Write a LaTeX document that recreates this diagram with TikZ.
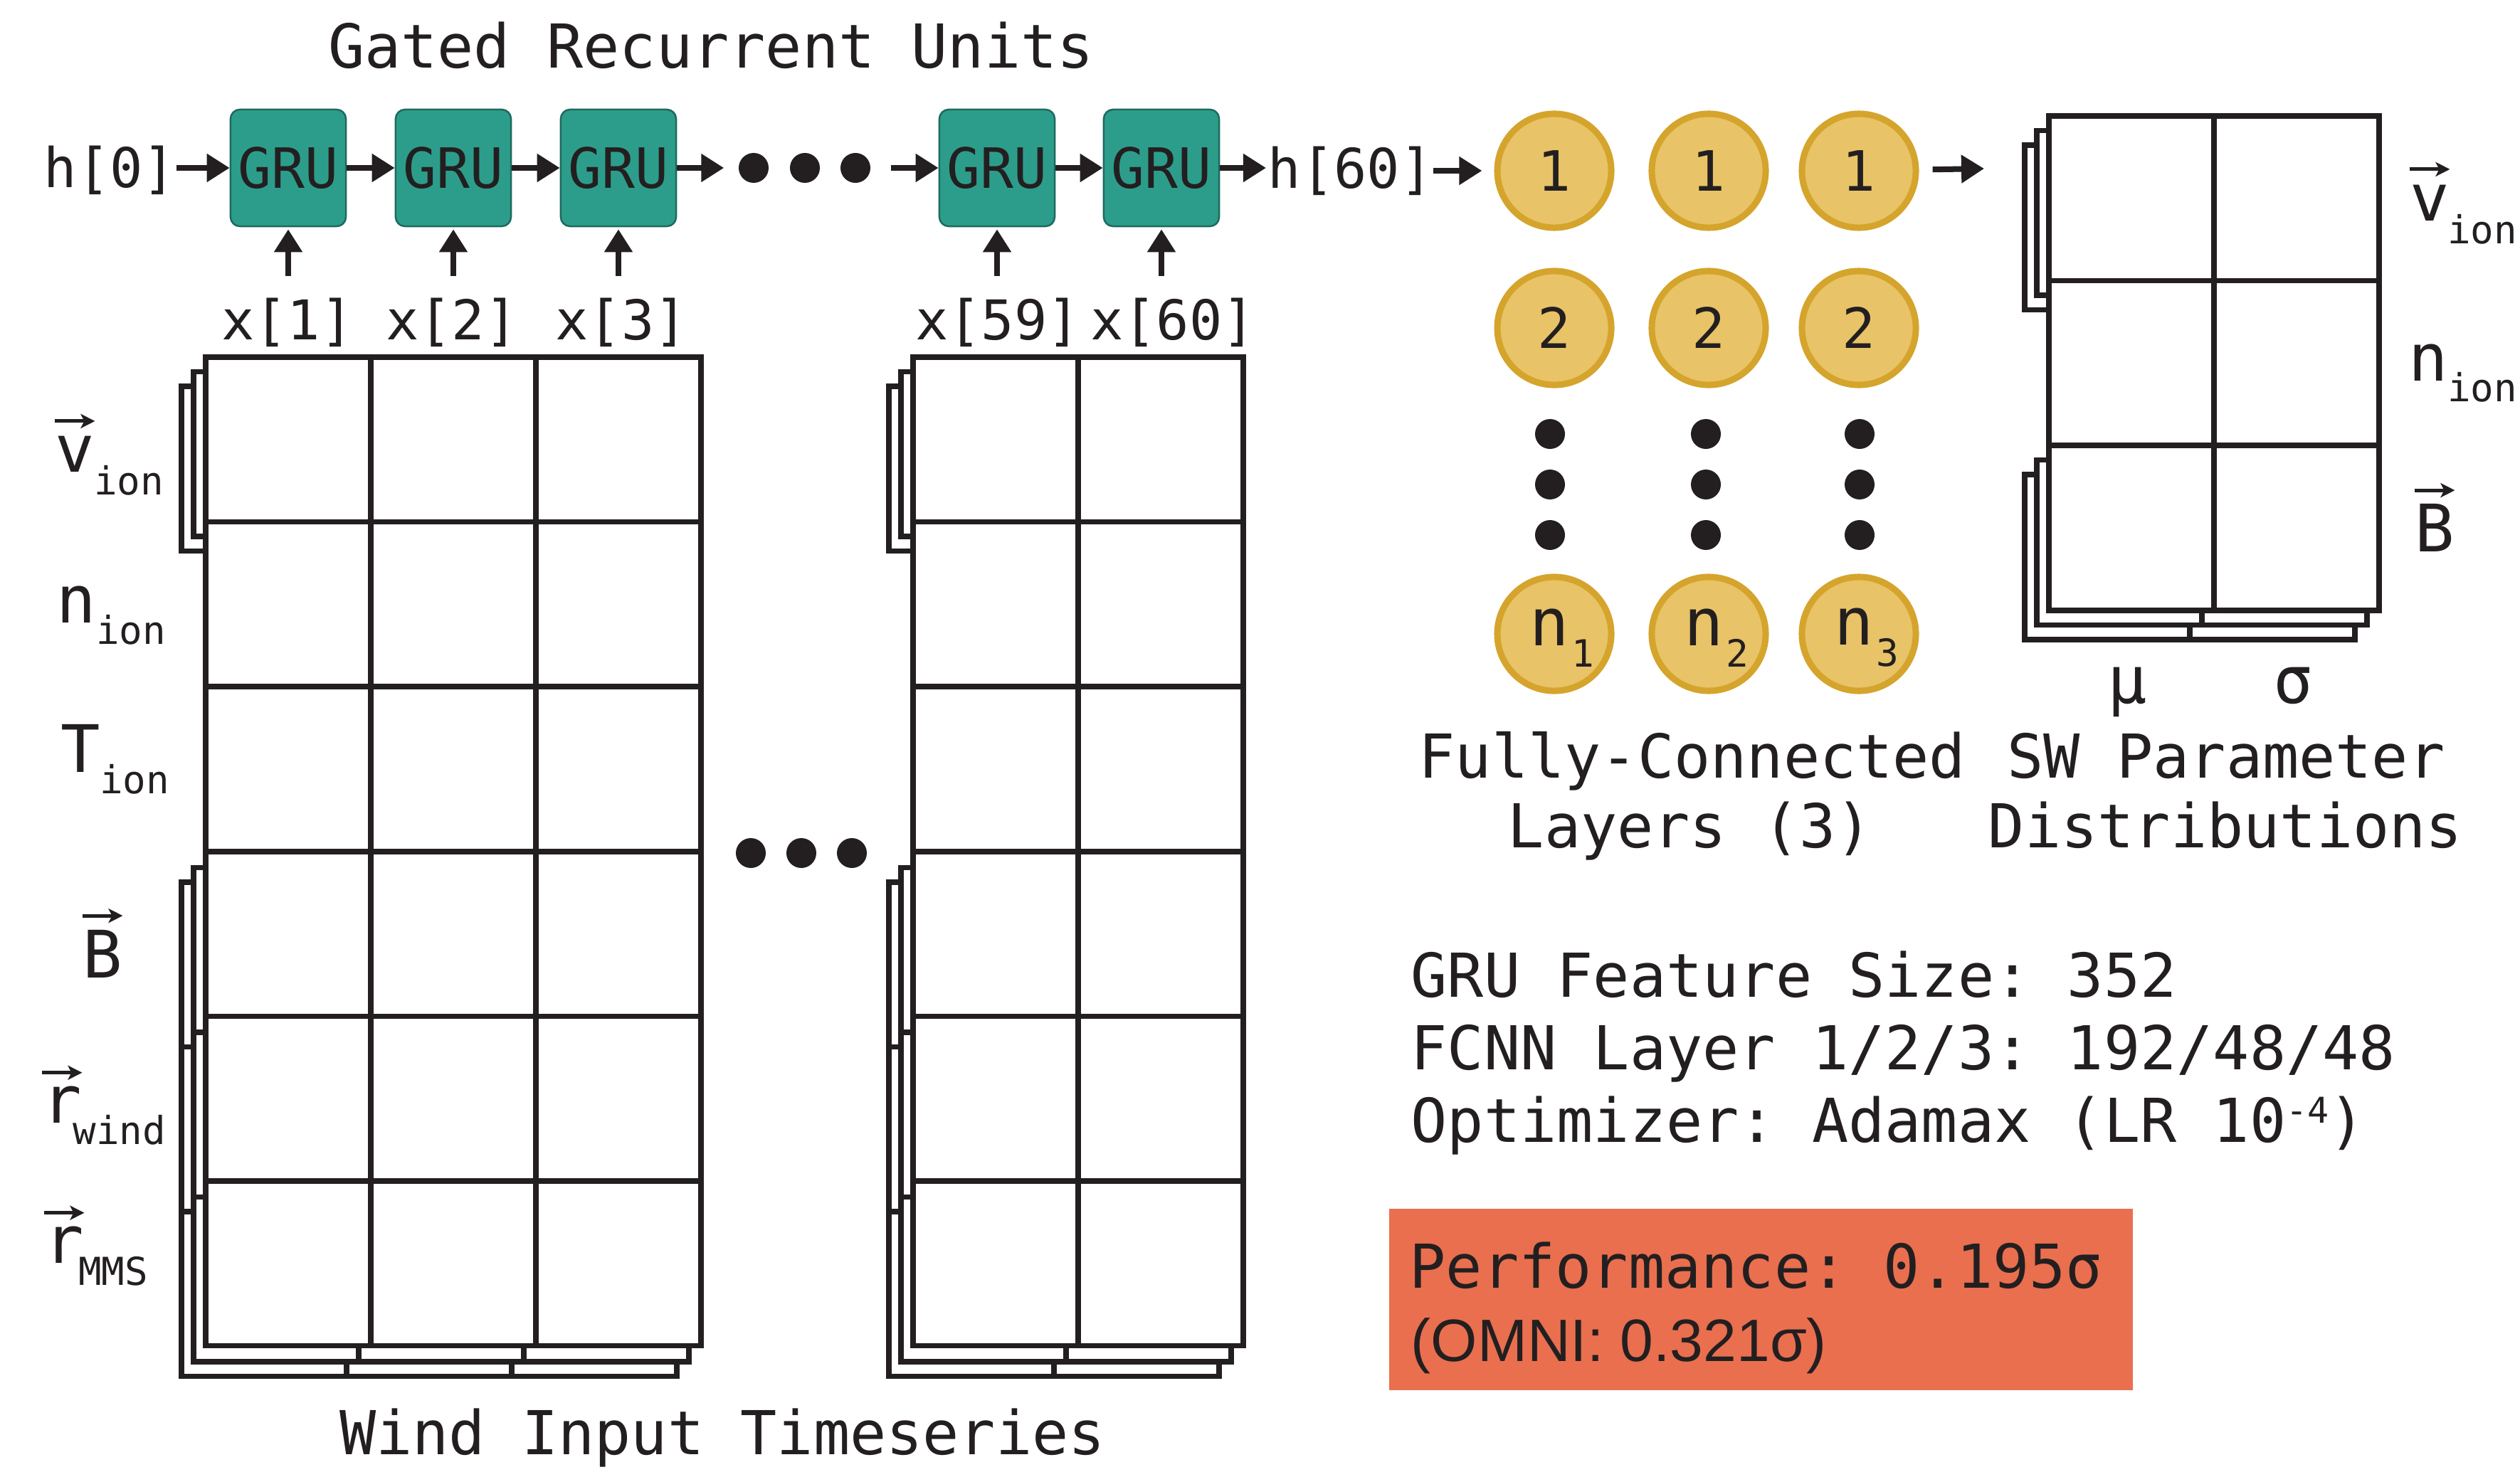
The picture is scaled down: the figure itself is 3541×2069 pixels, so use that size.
\documentclass[tikz,border=0pt]{standalone}
\usepackage{fontspec}
\setmainfont{DejaVu Sans Mono}
\newfontfamily\omnifont{Liberation Sans}
\usetikzlibrary{arrows.meta}

\definecolor{ink}{HTML}{231F20}
\definecolor{grufill}{HTML}{2D9D8B}
\definecolor{gruedge}{HTML}{1D6A5E}
\definecolor{fcfill}{HTML}{E8C367}
\definecolor{fcedge}{HTML}{D5A42C}
\definecolor{perf}{HTML}{E96F4F}

\newcommand{\fsz}[1]{\fontsize{#1pt}{#1pt}\selectfont}

% white table of cells: left x, columns, top y, rows
\newcommand{\cellgrid}[4]{%
  \pgfmathsetmacro\cgRight{#1+232*#2}%
  \pgfmathsetmacro\cgBottom{#3+231.6*#4}%
  \filldraw[gridline, fill=white] (#1,#3) rectangle (\cgRight,\cgBottom);%
  \ifnum#2>1 \foreach \ci in {2,...,#2}{\draw[gridline] ({#1+232*(\ci-1)},#3) -- ({#1+232*(\ci-1)},\cgBottom);}\fi
  \ifnum#4>1 \foreach \cj in {2,...,#4}{\draw[gridline] (#1,{#3+231.6*(\cj-1)}) -- (\cgRight,{#3+231.6*(\cj-1)});}\fi
}

\tikzset{
  txt/.style={inner sep=0pt, text=ink},
  big/.style={txt, font=\fsz{24.2}},
  lab/.style={txt, font=\fsz{21.9}},
  sym/.style={txt, font=\fsz{26.2}},
  sub/.style={txt, font=\fsz{15.4}},
  gru/.style={draw=gruedge, line width=0.025cm, fill=grufill, rounded corners=0.13cm,
    minimum width=1.62cm, minimum height=1.64cm, inner sep=0pt, font=\fsz{22.2}, text=ink},
  neuron/.style={circle, draw=fcedge, line width=0.09cm, fill=fcfill, minimum size=1.6cm,
    inner sep=0pt, font=\fsz{22.2}, text=ink},
  dot/.style={circle, fill=ink, minimum size=0.42cm, inner sep=0pt},
  arr/.style={draw=ink, line width=0.08cm, -{Triangle[length=0.32cm,width=0.38cm]}},
  vecarr/.style={draw=ink, line width=0.05cm, -{Stealth[length=0.2cm,width=0.2cm,inset=0.05cm]}},
  gridline/.style={draw=ink, line width=0.075cm},
}

\begin{document}
\frenchspacing
\begin{tikzpicture}[x=0.01cm, y=-0.01cm]
\useasboundingbox (0,0) rectangle (3541,2069);
\fill[white] (0,0) rectangle (3541,2069);

% ---------- recurrent chain ----------
\node[big, anchor=base] (title) at (999,95) {Gated Recurrent Units};

\node[lab, anchor=base west] (h0) at (61,263) {h[0]};
\node[gru] (gru1) at (405,236) {GRU};
\node[gru] (gru2) at (637,236) {GRU};
\node[gru] (gru3) at (869,236) {GRU};
\node[dot] (gd1) at (1059,236) {};
\node[dot] (gd2) at (1131,236) {};
\node[dot] (gd3) at (1202,236) {};
\node[gru] (gru4) at (1401,236) {GRU};
\node[gru] (gru5) at (1632,236) {GRU};
\node[lab, anchor=base west] (h60) at (1781,264) {h[60]};

\draw[arr] (h0.east |- gru1) -- (gru1.west);
\draw[arr] (gru1.east) -- (gru2.west);
\draw[arr] (gru2.east) -- (gru3.west);
\draw[arr, shorten >=0.2cm] (gru3.east) -- (gd1.west);
\draw[arr, shorten <=0.28cm] (gd3.east) -- (gru4.west);
\draw[arr] (gru4.east) -- (gru5.west);
\draw[arr, shorten >=0.02cm] (gru5.east) -- (h60.west |- gru5);

\node[lab, anchor=base] (x1) at (404,477) {x[1]};
\node[lab, anchor=base] (x2) at (635,477) {x[2]};
\node[lab, anchor=base] (x3) at (873,477) {x[3]};
\node[lab, anchor=base] (x59) at (1402,477) {x[59]};
\node[lab, anchor=base] (x60) at (1648,477) {x[60]};
\foreach \g/\xl in {gru1/x1, gru2/x2, gru3/x3, gru4/x59, gru5/x60}{
  \draw[arr, shorten <=0.3cm, shorten >=0.03cm] (\g.south |- \xl.north) -- (\g.south);
}

% ---------- input windows ----------
\foreach \k in {2,1}{
  \begin{scope}[shift={(-17*\k,20.5*\k)}]
    \cellgrid{289}{3}{502}{1}
    \cellgrid{289}{3}{1198.8}{3}
    \cellgrid{1283}{2}{502}{1}
    \cellgrid{1283}{2}{1198.8}{3}
  \end{scope}
}
\cellgrid{289}{3}{502}{6}
\cellgrid{1283}{2}{502}{6}

\node[dot] (md1) at (1055,1199) {};
\node[dot] (md2) at (1126,1199) {};
\node[dot] (md3) at (1197,1199) {};

% row labels of the input windows
\node[sym, anchor=base] (lv) at (105,663) {v};
\node[sub, anchor=base] (lvs) at (181,695) {ion};
\draw[vecarr] ([yshift=0.2cm]lv.north west) -- ([yshift=0.2cm]lv.north east);
\node[sym, anchor=base] (ln) at (107,875) {n};
\node[sub, anchor=base] (lns) at (184,905) {ion};
\node[sym, anchor=base] (lt) at (113,1085) {T};
\node[sub, anchor=base] (lts) at (189,1115) {ion};
\node[sym, anchor=base] (lb) at (144,1374) {B};
\draw[vecarr] ([yshift=0.19cm]lb.north west) -- ([yshift=0.19cm]lb.north east);
\node[sym, anchor=base] (lrw) at (87,1578) {r};
\node[sub, anchor=base] (lrws) at (168,1608) {wind};
\draw[vecarr] ([yshift=0.18cm]lrw.north west) -- ([yshift=0.18cm]lrw.north east);
\node[sym, anchor=base] (lrm) at (90,1775) {r};
\node[sub, anchor=base] (lrms) at (159,1806) {MMS};
\draw[vecarr] ([yshift=0.18cm]lrm.north west) -- ([yshift=0.18cm]lrm.north east);

\node[big, anchor=base] (wit) at (1015,2044) {Wind Input Timeseries};

% ---------- fully-connected layers ----------
\foreach \c/\cx/\dx in {1/2184/2178, 2/2401/2397, 3/2612/2613}{
  \node[neuron] (c1\c) at (\cx,240) {1};
  \node[neuron] (c2\c) at (\cx,461) {2};
  \node[dot] (fd1\c) at (\dx,610) {};
  \node[dot] (fd2\c) at (\dx,681) {};
  \node[dot] (fd3\c) at (\dx,752) {};
  \node[neuron] (cn\c) at (\cx,891)
    {\hspace*{0.22cm}\rule{0pt}{0.62cm}\fsz{26.2}n\kern0.03cm\raisebox{-0.3cm}{\fsz{15}\c}};
}
\draw[arr, shorten >=0.17cm] (h60.east |- c11) -- (c11.west);
\coordinate (outtip) at (2788,237);
\draw[arr, shorten <=0.19cm] (c13) -- (outtip);

\node[big, anchor=base] (fc1) at (2378,1093) {Fully-Connected};
\node[big, anchor=base] (fc2) at (2375,1191) {Layers (3)};

% ---------- output distributions ----------
\foreach \k in {2,1}{
  \begin{scope}[shift={(-17*\k,20.5*\k)}]
    \cellgrid{2879}{2}{163}{1}
    \cellgrid{2879}{2}{626.2}{1}
  \end{scope}
}
\cellgrid{2879}{2}{163}{3}

\node[sym, anchor=base] (rv) at (3414,310) {v};
\node[sub, anchor=base] (rvs) at (3488,342) {ion};
\draw[vecarr] ([yshift=0.21cm]rv.north west) -- ([yshift=0.21cm]rv.north east);
\node[sym, anchor=base] (rn) at (3412,535) {n};
\node[sub, anchor=base] (rns) at (3488,564) {ion};
\node[sym, anchor=base] (rb) at (3421,775) {B};
\draw[vecarr] ([yshift=0.18cm]rb.north west) -- ([yshift=0.18cm]rb.north east);

\node[sym, anchor=base] (mu) at (2989,988) {μ};
\node[sym, anchor=base] (sig) at (3222,988) {σ};

\node[big, anchor=base] (sw1) at (3128,1093) {SW Parameter};
\node[big, anchor=base] (sw2) at (3127,1191) {Distributions};

% ---------- settings and score ----------
\node[big, anchor=base west] (p1) at (1982,1401) {GRU Feature Size: 352};
\node[big, anchor=base west] (p2) at (1982,1503) {FCNN Layer 1/2/3: 192/48/48};
\node[big, anchor=base west] (p3) at (1982,1605) {Optimizer: Adamax (LR 10\raisebox{0.27cm}{\fsz{14.2}-4})};

\node[fill=perf, minimum width=10.45cm, minimum height=2.55cm, inner sep=0pt, anchor=north west] (perfbox) at (1951,1698) {};
\node[big, anchor=base west] (perf1) at (1980,1810) {Performance: 0.195σ};
\node[txt, font=\omnifont\fsz{23.9}, anchor=base west] (perf2) at (1982,1913) {(OMNI: 0.321σ)};
\end{tikzpicture}
\end{document}
